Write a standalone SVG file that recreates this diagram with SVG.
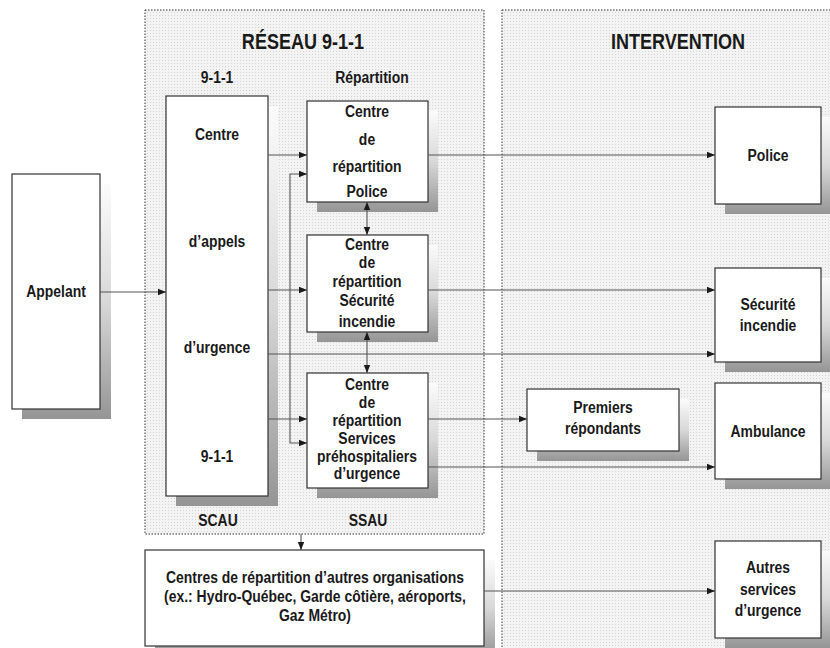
<svg xmlns="http://www.w3.org/2000/svg" width="830" height="648" viewBox="0 0 830 648">
<style>
.t{font-family:"Liberation Sans",Arial,sans-serif;font-weight:bold;font-size:17px;fill:#1a1a1a;text-anchor:middle}
.h{font-size:22px}
.panel{fill:url(#dots);stroke:#333;stroke-width:1;stroke-dasharray:1.5 1.5}
.box{fill:#fff;stroke:#333;stroke-width:1.2}
.sh{fill:url(#shg)}
.c{fill:none;stroke:#555;stroke-width:1.1}
.a{marker-end:url(#ah)}
.b{marker-start:url(#ahs);marker-end:url(#ah)}
</style>
<defs>
<pattern id="dots" width="3" height="3" patternUnits="userSpaceOnUse">
<rect width="3" height="3" fill="#f3f3f3"/>
<rect width="1" height="1" fill="#d4d4d4"/>
</pattern>
<linearGradient id="shg" x1="0" y1="0" x2="0" y2="1">
<stop offset="0" stop-color="#fbfbfb"/>
<stop offset="0.5" stop-color="#d8d8d8"/>
<stop offset="1" stop-color="#959595"/>
</linearGradient>
<marker id="ah" markerWidth="8" markerHeight="8" refX="8" refY="4" orient="auto" markerUnits="userSpaceOnUse">
<path d="M0,0.8 L8,4 L0,7.2 Z" fill="#1a1a1a"/>
</marker>
<marker id="ahs" markerWidth="8" markerHeight="8" refX="0" refY="4" orient="auto" markerUnits="userSpaceOnUse">
<path d="M8,0.8 L0,4 L8,7.2 Z" fill="#1a1a1a"/>
</marker>
</defs>
<rect width="830" height="648" fill="#fff"/>

<g id="panel-reseau">
<rect class="panel" x="145" y="10" width="339" height="524"/>
<text class="t h" transform="translate(303 49) scale(0.82 1)">RÉSEAU 9-1-1</text>
<text class="t" transform="translate(217 83) scale(0.82 1)">9-1-1</text>
<text class="t" transform="translate(372 83) scale(0.82 1)">Répartition</text>
<text class="t" transform="translate(218 526) scale(0.82 1)">SCAU</text>
<text class="t" transform="translate(368 526) scale(0.82 1)">SSAU</text>
</g>
<g id="panel-intervention">
<rect class="panel" x="502" y="10" width="345" height="650"/>
<text class="t h" transform="translate(678 49) scale(0.82 1)">INTERVENTION</text>
</g>

<g id="appelant">
<rect class="sh" x="22" y="184" width="89" height="235"/>
<rect class="box" x="12" y="174" width="88" height="235"/>
<text class="t" transform="translate(56 297) scale(0.82 1)">Appelant</text>
</g>

<g id="scau">
<rect class="sh" x="176" y="106" width="102" height="400"/>
<rect class="box" x="166" y="96" width="102" height="400"/>
<text class="t" transform="translate(217 140) scale(0.82 1)">Centre</text>
<text class="t" transform="translate(217 247) scale(0.82 1)">d’appels</text>
<text class="t" transform="translate(217 353) scale(0.82 1)">d’urgence</text>
<text class="t" transform="translate(217 462) scale(0.82 1)">9-1-1</text>
</g>

<g id="centre-police">
<rect class="sh" x="317" y="111" width="121" height="101"/>
<rect class="box" x="307" y="101" width="121" height="101"/>
<text class="t" transform="translate(367 117) scale(0.82 1)">Centre</text>
<text class="t" transform="translate(367 145) scale(0.82 1)">de</text>
<text class="t" transform="translate(367 172) scale(0.82 1)">répartition</text>
<text class="t" transform="translate(367 197) scale(0.82 1)">Police</text>
</g>

<g id="centre-si">
<rect class="sh" x="317" y="245" width="121" height="97"/>
<rect class="box" x="307" y="235" width="121" height="97"/>
<text class="t" transform="translate(367 250) scale(0.82 1)">Centre</text>
<text class="t" transform="translate(367 268) scale(0.82 1)">de</text>
<text class="t" transform="translate(367 287) scale(0.82 1)">répartition</text>
<text class="t" transform="translate(367 306) scale(0.82 1)">Sécurité</text>
<text class="t" transform="translate(367 327) scale(0.82 1)">incendie</text>
</g>

<g id="centre-spu">
<rect class="sh" x="317" y="383" width="121" height="115"/>
<rect class="box" x="307" y="373" width="121" height="115"/>
<text class="t" transform="translate(367 390) scale(0.82 1)">Centre</text>
<text class="t" transform="translate(367 408) scale(0.82 1)">de</text>
<text class="t" transform="translate(367 426) scale(0.82 1)">répartition</text>
<text class="t" transform="translate(367 444) scale(0.82 1)">Services</text>
<text class="t" transform="translate(367 462) scale(0.82 1)">préhospitaliers</text>
<text class="t" transform="translate(367 479) scale(0.82 1)">d’urgence</text>
</g>

<g id="autres-org">
<rect class="sh" x="155" y="560" width="340" height="96"/>
<rect class="box" x="145" y="550" width="339" height="96"/>
<text class="t" transform="translate(315 583) scale(0.82 1)">Centres de répartition d’autres organisations</text>
<text class="t" transform="translate(315 602) scale(0.82 1)">(ex.: Hydro-Québec, Garde côtière, aéroports,</text>
<text class="t" transform="translate(315 621) scale(0.82 1)">Gaz Métro)</text>
</g>

<g id="police">
<rect class="sh" x="725" y="117" width="106" height="97"/>
<rect class="box" x="715" y="107" width="106" height="97"/>
<text class="t" transform="translate(768 161) scale(0.82 1)">Police</text>
</g>

<g id="securite-incendie">
<rect class="sh" x="725" y="278" width="106" height="94"/>
<rect class="box" x="715" y="268" width="106" height="94"/>
<text class="t" transform="translate(768 310) scale(0.82 1)">Sécurité</text>
<text class="t" transform="translate(768 331) scale(0.82 1)">incendie</text>
</g>

<g id="premiers-repondants">
<rect class="sh" x="537" y="399" width="152" height="62"/>
<rect class="box" x="527" y="389" width="152" height="62"/>
<text class="t" transform="translate(603 413) scale(0.82 1)">Premiers</text>
<text class="t" transform="translate(603 434) scale(0.82 1)">répondants</text>
</g>

<g id="ambulance">
<rect class="sh" x="725" y="393" width="106" height="96"/>
<rect class="box" x="715" y="383" width="106" height="96"/>
<text class="t" transform="translate(768 437) scale(0.82 1)">Ambulance</text>
</g>

<g id="autres-services">
<rect class="sh" x="725" y="551" width="106" height="97"/>
<rect class="box" x="715" y="541" width="106" height="97"/>
<text class="t" transform="translate(768 573) scale(0.82 1)">Autres</text>
<text class="t" transform="translate(768 595) scale(0.82 1)">services</text>
<text class="t" transform="translate(768 616) scale(0.82 1)">d’urgence</text>
</g>

<g id="connectors">
<path class="c a" d="M100,292 H166"/>
<path class="c a" d="M268,155 H307"/>
<path class="c a" d="M268,290 H307"/>
<path class="c a" d="M268,419 H307"/>
<path class="c a" d="M290,300 V174 H307"/>
<path class="c a" d="M290,300 V443 H307"/>
<path class="c b" d="M367,202 V235"/>
<path class="c b" d="M367,332 V373"/>
<path class="c a" d="M428,155 H715"/>
<path class="c a" d="M428,290 H715"/>
<path class="c a" d="M268,354 H715"/>
<path class="c a" d="M428,419 H527"/>
<path class="c a" d="M428,467 H715"/>
<path class="c a" d="M301,534 V550"/>
<path class="c a" d="M484,591 H715"/>
</g>
</svg>
